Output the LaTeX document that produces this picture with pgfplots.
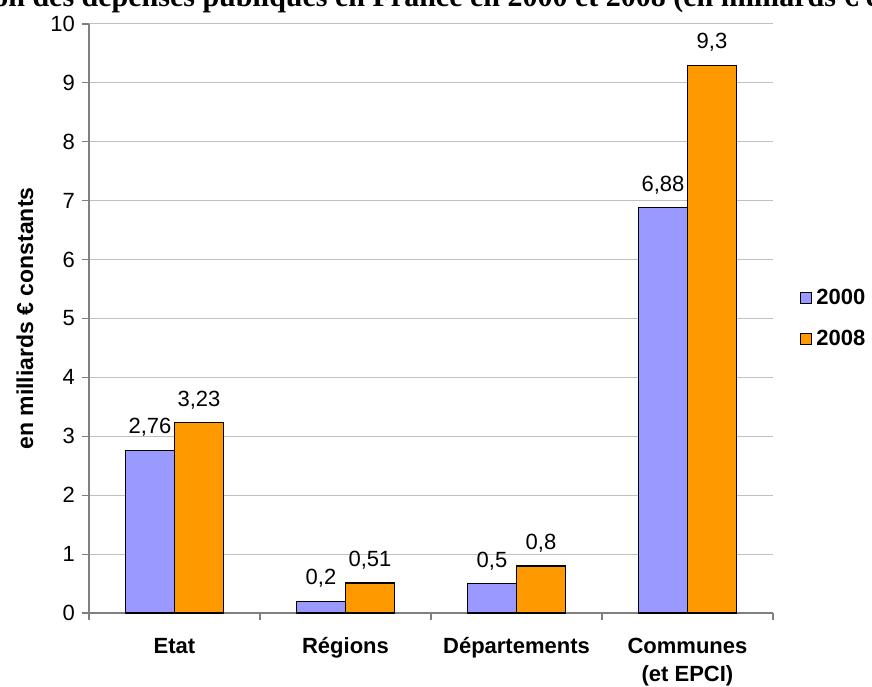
\documentclass[border=0pt]{standalone}
\usepackage{pgfplots}
\pgfplotsset{compat=1.18}
\usepackage{fontspec}
\setmainfont{Liberation Sans}
\newfontfamily\titlefont{Liberation Serif}
\definecolor{c2000}{HTML}{9999FF}
\definecolor{c2008}{HTML}{FF9900}
\definecolor{gridgray}{HTML}{C0C0C0}
\definecolor{axgray}{HTML}{808080}
\begin{document}
\begin{tikzpicture}
\path[use as bounding box, clip] (-44.5pt,-36.5pt) rectangle (391.5pt,306.5pt);
\begin{axis}[
  at={(0pt,0pt)}, anchor=south west,
  scale only axis, width=342pt, height=294.5pt,
  ybar=0pt, bar width=24.5pt,
  xmin=-0.5, xmax=3.5, ymin=0, ymax=10,
  ytick={0,...,10},
  xtick={0,1,2,3},
  xticklabels={\vphantom{Ég}Etat, \vphantom{Ég}Régions, \vphantom{Ég}Départements, {\vphantom{Ég}Communes\\(et EPCI)}},
  xticklabel style={align=center, anchor=north, font=\bfseries\fontsize{11}{14}\selectfont, yshift=-3.5pt},
  yticklabel style={font=\fontsize{11}{13}\selectfont},
  minor xtick={-0.5,0.5,1.5,2.5,3.5},
  major x tick style={draw=none},
  tick align=outside,
  major tick length=3.5pt, minor tick length=3.5pt,
  tick style={axgray, line width=0.6pt},
  axis x line*=bottom, axis y line*=left,
  axis line style={axgray, line width=0.6pt, -},
  ymajorgrids, major grid style={gridgray, line width=0.5pt},
  /pgf/number format/assume math mode=true,
  /pgf/number format/use comma,
  nodes near coords,
  every node near coord/.append style={font=\fontsize{11}{13}\selectfont, inner sep=0pt, anchor=south, yshift=6.5pt},
  clip=false,
  ylabel={en milliards € constants},
  ylabel style={at={(axis description cs:-0.0936,0.5)}, anchor=center, font=\bfseries\fontsize{11.5}{13}\selectfont},
  legend style={draw=none, fill=none, at={(1.0395,0.5)}, anchor=west, font=\bfseries\fontsize{11}{13}\selectfont, row sep=7.5pt, inner sep=0pt, nodes={inner sep=2pt, xshift=1.5pt}},
  legend image code/.code={\draw[#1, line width=0.5pt] (0pt,-2.75pt) rectangle (5.5pt,2.75pt);},
  legend cell align=left,
]
\addplot[fill=c2000, draw=black, line width=0.7pt] coordinates {(0,2.76) (1,0.2) (2,0.5) (3,6.88)};
\addplot[fill=c2008, draw=black, line width=0.7pt] coordinates {(0,3.23) (1,0.51) (2,0.8) (3,9.3)};
\legend{2000,2008}
\end{axis}
\node[anchor=base, font=\titlefont\bfseries\fontsize{15}{18}\selectfont] at (179.5pt,303pt) {Evolution des dépenses publiques en France en 2000 et 2008 (en milliards € constants)};
\end{tikzpicture}
\end{document}
